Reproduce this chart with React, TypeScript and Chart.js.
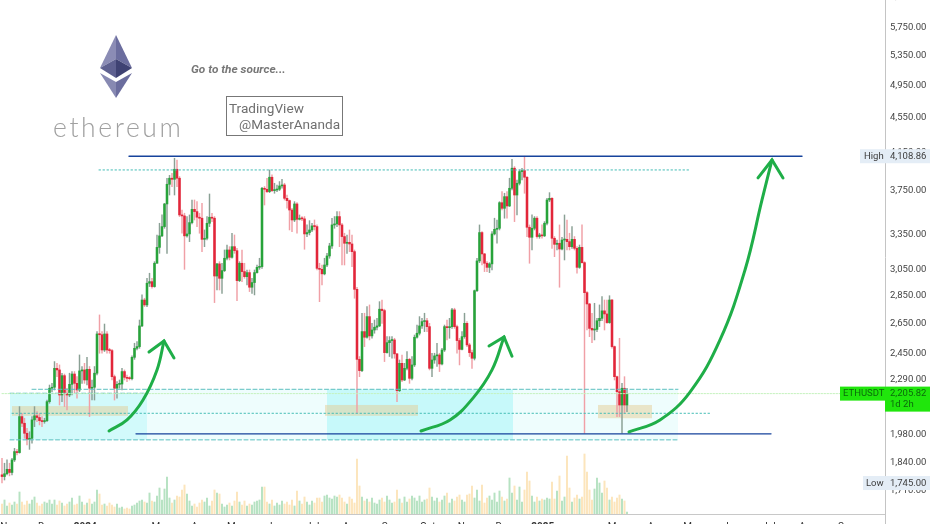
import React, { useEffect, useRef } from "react";
import { Chart, registerables } from "chart.js";

Chart.register(...registerables);

const opens = [1783,1775,1788,1809,1794,1854,1895,1890,2077,2041,
1988,1957,1962,2059,2081,2072,2055,2050,2055,2160,
2237,2243,2357,2347,2198,2312,2208,2198,2260,2322,
2266,2227,2341,2347,2286,2351,2237,2243,2327,2579,
2574,2473,2579,2473,2469,2306,2237,2260,2262,2337,
2302,2296,2294,2426,2484,2495,2634,2819,2783,2946,
2958,2920,3104,3236,3335,3417,3626,3818,3879,3868,
3971,3879,3523,3514,3335,3352,3453,3575,3554,3502,
3493,3305,3314,3447,3502,3493,3002,3099,2984,3045,
3145,3214,3153,3242,3208,2966,3104,3037,2997,3029,
2915,2951,3029,3071,3077,3778,3768,3745,3889,3755,
3761,3768,3801,3811,3680,3658,3569,3477,3626,3483,
3493,3487,3352,3364,3387,3423,3417,3063,3055,3019,
3090,3164,3248,3432,3441,3508,3432,3329,3271,3279,
3265,3200,2899,2413,2343,2595,2557,2699,2566,2606,
2625,2634,2752,2742,2456,2521,2535,2539,2448,2223,
2388,2286,2357,2413,2296,2378,2557,2584,2634,2664,
2670,2629,2357,2409,2435,2441,2384,2473,2629,2622,
2629,2747,2629,2535,2477,2561,2652,2506,2456,2420,
2889,3123,3364,3181,3104,3071,3099,3352,3393,3402,
3638,3585,3696,3607,3778,3982,3712,3828,3947,3957,
3889,3411,3323,3402,3493,3329,3343,3335,3447,3664,
3680,3314,3262,3271,3222,3299,3305,3285,3242,3305,
3228,3071,3236,3109,2874,2790,2617,2606,2610,2670,
2687,2740,2718,2657,2819,2495,2306,2217,2141,2237,
2141];

const closes = [1775,1788,1809,1794,1854,1895,1890,2077,2041,1988,
1957,1962,2059,2081,2072,2055,2050,2055,2160,2237,
2243,2357,2347,2198,2312,2208,2198,2260,2322,2266,
2227,2341,2347,2286,2351,2237,2243,2327,2579,2574,
2473,2579,2473,2469,2306,2237,2260,2262,2337,2302,
2296,2294,2426,2484,2495,2634,2819,2783,2946,2958,
2920,3104,3236,3335,3417,3626,3818,3879,3868,3971,
3879,3523,3514,3335,3352,3453,3575,3554,3502,3493,
3305,3314,3447,3502,3493,3002,3099,2984,3045,3145,
3214,3153,3242,3208,2966,3104,3037,2997,3029,2915,
2951,3029,3071,3077,3778,3768,3745,3889,3755,3761,
3768,3801,3811,3680,3658,3569,3477,3626,3483,3493,
3487,3352,3364,3387,3423,3417,3063,3055,3019,3090,
3164,3248,3432,3441,3508,3432,3329,3271,3279,3265,
3200,2899,2413,2343,2595,2557,2699,2566,2606,2625,
2634,2752,2742,2456,2521,2535,2539,2448,2223,2388,
2286,2357,2413,2296,2378,2557,2584,2634,2664,2670,
2629,2357,2409,2435,2441,2384,2473,2629,2622,2629,
2747,2629,2535,2477,2561,2652,2506,2456,2420,2889,
3123,3364,3181,3104,3071,3099,3352,3393,3402,3638,
3585,3696,3607,3778,3982,3712,3828,3947,3957,3889,
3411,3323,3402,3493,3329,3343,3335,3447,3664,3680,
3314,3262,3271,3222,3299,3305,3285,3242,3305,3228,
3071,3236,3109,2874,2790,2617,2606,2610,2670,2687,
2740,2718,2657,2819,2495,2306,2217,2141,2237,2141,
2205.82];

const highs = [1862,1838,1854,1838,1862,1911,1906,2132,2095,2068,
2014,1996,2077,2132,2104,2095,2077,2068,2169,2256,
2266,2399,2388,2378,2327,2322,2237,2327,2337,2337,
2306,2441,2368,2388,2426,2368,2286,2368,2595,2711,
2595,2647,2595,2484,2477,2316,2276,2286,2357,2347,
2316,2306,2435,2517,2528,2675,2857,2832,2984,3024,
2984,3117,3343,3447,3523,3632,3879,3908,3930,4087,
4069,3896,3569,3539,3508,3523,3664,3664,3648,3539,
3632,3387,3508,3722,3539,3508,3104,3117,3104,3214,
3256,3242,3358,3343,3228,3117,3214,3104,3050,3050,
2984,3050,3090,3145,3788,3795,3879,3964,3913,3828,
3811,3845,3868,3828,3712,3664,3585,3648,3638,3523,
3508,3508,3432,3471,3447,3477,3432,3104,3090,3145,
3186,3271,3493,3508,3554,3554,3447,3358,3343,3387,
3343,3214,2915,2431,2723,2723,2771,2783,2652,2675,
2687,2807,2819,2752,2561,2561,2561,2550,2452,2409,
2441,2388,2463,2420,2431,2572,2640,2699,2687,2723,
2687,2652,2452,2452,2517,2452,2484,2640,2675,2687,
2759,2759,2640,2550,2595,2723,2664,2517,2473,2894,
3145,3432,3372,3186,3117,3109,3372,3493,3477,3648,
3745,3729,3745,3879,4076,3999,3861,3964,3982,4108.86,
3896,3432,3523,3508,3508,3358,3432,3462,3680,3735,
3687,3329,3299,3432,3323,3523,3477,3358,3417,3329,
3242,3256,3432,3117,2882,2795,2723,2795,2687,2783,
2844,2819,2819,2851,2824,2499,2310,2550,2266,2306,
2237];

const lows = [1745,1759,1783,1778,1783,1846,1879,1887,2023,1962,
1928,1906,1937,2023,2050,2032,2023,2041,2050,2151,
2217,2227,2306,2141,2160,2132,2113,2188,2198,2208,
2179,2217,2266,2266,2256,2077,2169,2169,2316,2452,
2452,2463,2452,2452,2286,2169,2179,2237,2227,2286,
2276,2286,2286,2413,2473,2484,2629,2771,2771,2920,
2907,2915,3104,3186,3329,3402,3186,3712,3795,3712,
3795,3508,3358,3055,3323,3285,3441,3477,3417,3358,
3200,3242,3299,3417,3462,2800,2894,2894,2869,3037,
3131,3131,3145,3186,2814,2958,2958,2984,2933,2882,
2869,2857,3024,3055,3063,3616,3735,3735,3745,3729,
3745,3755,3778,3664,3585,3387,3372,3462,3358,3477,
3471,3220,3329,3343,3372,3387,3050,2807,2933,3011,
3077,3145,3228,3402,3417,3242,3090,3090,3186,3200,
3077,2832,2095,2306,2337,2495,2550,2539,2550,2584,
2606,2629,2652,2399,2452,2431,2420,2420,2160,2217,
2276,2282,2347,2266,2286,2368,2550,2572,2617,2595,
2595,2347,2306,2388,2368,2337,2378,2463,2539,2550,
2617,2617,2452,2378,2473,2550,2495,2431,2357,2409,
2882,3109,3090,3037,3037,3029,3050,3343,3271,3387,
3569,3493,3493,3601,3761,3462,3523,3811,3861,3729,
3329,3104,3214,3387,3314,3314,3314,3329,3432,3648,
3228,3158,3214,2915,3214,3131,3214,3214,3228,3214,
3024,3063,3104,1988,2606,2561,2521,2539,2595,2629,
2670,2606,2652,2652,2484,2286,2077,2077,1988,2095,
2104];

const volumes = [10,14,8,11,9,12,10,22,12,9,
13,10,14,17,11,8,10,12,11,14,
10,14,9,13,11,8,10,12,16,9,
10,18,12,9,11,15,10,12,24,20,
9,10,8,11,9,7,10,6,7,5,
6,5,8,9,11,13,14,12,11,21,
13,12,18,26,14,25,37,16,11,14,
18,17,24,29,20,13,8,10,7,11,
14,12,16,8,13,24,21,20,10,7,
9,11,8,13,22,12,9,13,8,10,
9,12,13,14,27,27,12,10,14,8,
11,9,13,10,12,9,14,8,23,13,
10,17,12,9,13,11,16,16,12,18,
19,16,15,18,17,19,16,12,10,17,
15,11,55,28,17,13,15,12,16,11,
10,14,16,12,18,14,11,12,24,15,
11,17,12,15,18,16,13,18,12,14,
15,26,17,13,16,12,14,18,21,11,
15,13,17,19,14,12,19,20,28,16,
24,13,29,11,16,18,14,21,12,23,
17,13,15,36,21,28,14,27,12,24,
42,33,18,12,17,13,15,14,16,15,
32,15,23,38,13,17,58,26,12,16,
19,15,17,60,42,24,14,25,36,31,
21,33,26,14,17,12,16,19,15,13,2];

const priceTicks = [6250,5750,5350,4950,4550,4150,3750,3350,3050,2850,2650,2450,2290,1980,1840,1710];
const monthTickPositions = [2.8,17.8,33.3,63.3,78.8,93.8,109.3,124.3,139.8,155.3,170.3,185.8,200.8,216.3,245.8,261.3,276.3,291.8,306.8,322.3,337.8];
const monthLabels = ["Nov","Dec","2024","Mar","Apr","May","Jun","Jul","Aug","Sep","Oct","Nov","Dec","2025","Mar","Apr","May","Jun","Jul","Aug","Sep"];

const highValue = 4108.86;
const lowValue = 1745;
const lastValue = 2205.82;

const resistanceLine = [[50.8, 4108.86], [320, 4108.86]];
const supportLine = [[53.6, 1985], [307.6, 1985]];
const upperDotted = [[38.8, 3964], [275.6, 3964]];
const lowerDotted = [[4, 2095], [283.6, 2095]];
const upperDashed = [[12, 2231], [270.4, 2231]];
const shortDashed = [[3.2, 2208], [58, 2208]];
const lowerDashed = [[3.2, 1954], [270.4, 1954]];
const lastPriceLine = [[0, 2205.82], [353, 2205.82]];

const arrowOne = [[42.8, 2000], [50, 2059], [56.4, 2169], [62, 2347], [64.8, 2532]];
const arrowOneHead = [[58.8, 2460], [64.8, 2532], [68.8, 2422]];
const arrowTwo = [[167.6, 2000], [179.2, 2059], [188.4, 2180], [196, 2347], [200.8, 2559]];
const arrowTwoHead = [[194.8, 2499], [200.8, 2559], [204, 2433]];
const arrowThree = [[250.8, 1995], [263.2, 2059], [275.2, 2215], [287.2, 2539], [297.2, 3050], [304, 3664], [308, 4069]];
const arrowThreeHead = [[302.4, 3882], [308, 4069], [312.4, 3882]];

// [x0, x1, priceTop, priceBottom]
const lightZones = [[58, 270.4, 2231, 1954]];
const cyanZones = [[3.2, 58, 2208, 1954], [130, 204.4, 2231, 1954]];
const tanZones = [[4, 50.4, 2135, 2081], [129.2, 166.4, 2141, 2081], [238.4, 260, 2141, 2068]];

const FONT = "Roboto, 'Liberation Sans', sans-serif";
const pts = (a: number[][]) => a.map(([x, y]) => ({ x, y }));
const fmt = (v: number) => v.toLocaleString("en-US", { minimumFractionDigits: 2, maximumFractionDigits: 2 });

const idx = opens.map((_, i) => i);
const isUp = (i: number) => closes[i] >= opens[i];

const overlay = {
  id: "overlay",
  beforeDatasetsDraw(chart: any) {
    const { ctx, scales } = chart;
    const fillZone = (z: number[], color: string) => {
      const x0 = scales.x.getPixelForValue(z[0]);
      const x1 = scales.x.getPixelForValue(z[1]);
      const y0 = scales.y.getPixelForValue(z[2]);
      const y1 = scales.y.getPixelForValue(z[3]);
      ctx.fillStyle = color;
      ctx.fillRect(x0, y0, x1 - x0, y1 - y0);
    };
    ctx.save();
    lightZones.forEach((z) => fillZone(z, "rgba(200,250,248,0.30)"));
    cyanZones.forEach((z) => fillZone(z, "rgba(130,240,245,0.36)"));
    tanZones.forEach((z) => fillZone(z, "rgba(228,205,150,0.5)"));
    ctx.restore();
  },
  afterDraw(chart: any) {
    const { ctx, scales } = chart;
    const axisX = chart.chartArea.right;
    ctx.save();
    ctx.strokeStyle = "#c4c4c4";
    ctx.lineWidth = 1;
    ctx.beginPath();
    ctx.moveTo(axisX + 0.5, chart.chartArea.bottom);
    ctx.lineTo(axisX + 0.5, 524);
    ctx.stroke();
    ctx.textBaseline = "middle";
    ctx.textAlign = "left";

    const tag = (name: string, value: number, x0: number, nameX: number) => {
      const y = scales.y.getPixelForValue(value);
      ctx.fillStyle = "#e4edf6";
      ctx.fillRect(x0, y - 7, 930 - x0, 14);
      ctx.fillStyle = "#3d3d3d";
      ctx.font = `9.5px ${FONT}`;
      ctx.fillText(name, nameX, y + 0.5);
      ctx.fillText(fmt(value), 890, y + 0.5);
    };
    tag("High", highValue, 860, 864);
    tag("Low", lowValue, 863, 866);

    const yLast = scales.y.getPixelForValue(lastValue);
    ctx.fillStyle = "#20e60c";
    ctx.fillRect(840, yLast - 7, 45, 14);
    ctx.fillRect(885, yLast - 7, 45, 25);
    ctx.fillStyle = "#0b6b0b";
    ctx.font = `9.5px ${FONT}`;
    ctx.fillText("ETHUSDT", 843, yLast + 0.5);
    ctx.fillText(fmt(lastValue), 890, yLast + 0.5);
    ctx.fillText("1d 2h", 890, yLast + 11.5);
    ctx.restore();
  },
};

export default function App() {
  const ref = useRef<HTMLCanvasElement>(null);
  useEffect(() => {
    if (!ref.current) return;
    const line = (data: number[][], color: string, width: number, dash: number[], order: number, tension = 0) => ({
      type: "line" as const,
      data: pts(data),
      borderColor: color,
      borderWidth: width,
      borderDash: dash,
      pointRadius: 0,
      tension,
      order,
      yAxisID: "y",
      borderCapStyle: "round" as const,
    });
    const chart = new Chart(ref.current, {
      type: "bar",
      data: {
        datasets: [
          {
            data: idx.map((i) => ({ x: i, y: volumes[i] })),
            backgroundColor: idx.map((i) => (isUp(i) ? "rgba(130,205,150,0.58)" : "rgba(250,210,140,0.58)")),
            barThickness: 1.3,
            grouped: false,
            order: 8,
            yAxisID: "yVol",
          },
          {
            data: idx.map((i) => ({ x: i, y: [lows[i], highs[i]] })),
            backgroundColor: idx.map((i) => (isUp(i) ? "#8aa094" : "#f0a0a6")),
            barThickness: 0.8,
            grouped: false,
            order: 7,
            yAxisID: "y",
          },
          {
            data: idx.map((i) => ({ x: i, y: [opens[i], closes[i]] })),
            backgroundColor: idx.map((i) => (isUp(i) ? "#27a33a" : "#e2263a")),
            barThickness: 1.9,
            minBarLength: 1,
            grouped: false,
            order: 6,
            yAxisID: "y",
          },
          line(lastPriceLine, "#c4f2bd", 1, [1.5, 1.5], 5),
          line(upperDotted, "#45bdb6", 1, [1.5, 2.5], 5),
          line(lowerDotted, "#45bdb6", 1, [1.5, 2.5], 5),
          line(upperDashed, "#5cc0c0", 1, [4, 2.5], 5),
          line(shortDashed, "#5cc0c0", 1, [4, 2.5], 5),
          line(lowerDashed, "#5cc0c0", 1, [4, 2.5], 5),
          line(resistanceLine, "#16439c", 1.4, [], 4),
          line(supportLine, "#16439c", 1.4, [], 4),
          line(arrowOne, "#1fae48", 3, [], 3, 0.4),
          line(arrowOneHead, "#1fae48", 3, [], 3),
          line(arrowTwo, "#1fae48", 3, [], 3, 0.4),
          line(arrowTwoHead, "#1fae48", 3, [], 3),
          line(arrowThree, "#1fae48", 3, [], 3, 0.4),
          line(arrowThreeHead, "#1fae48", 3, [], 3),
        ] as any,
      },
      options: {
        animation: false,
        responsive: false,
        layout: { padding: 0 },
        plugins: { legend: { display: false }, tooltip: { enabled: false } },
        scales: {
          x: {
            type: "linear",
            offset: false,
            min: -0.8,
            max: 353.2,
            grid: { display: false, drawTicks: false, offset: false },
            border: { color: "#c8c8c8" },
            afterBuildTicks: (s: any) => {
              s.ticks = monthTickPositions.map((value) => ({ value }));
            },
            afterFit: (s: any) => {
              s.height = 10;
              s.paddingLeft = 0;
              s.paddingRight = 0;
            },
            ticks: {
              autoSkip: false,
              maxRotation: 0,
              padding: 7,
              color: "#333",
              font: (c: any) => ({
                family: FONT,
                size: 10,
                weight: /^20/.test(monthLabels[c.index] || "") ? "bold" : "normal",
              }),
              callback: (_v: any, i: number) => monthLabels[i],
            },
          },
          y: {
            type: "logarithmic",
            position: "right",
            min: 1609,
            max: 6188,
            grid: { display: false, drawTicks: false },
            border: { color: "#c4c4c4" },
            afterBuildTicks: (s: any) => {
              s.ticks = priceTicks.map((value) => ({ value }));
            },
            afterFit: (s: any) => {
              s.width = 47;
              s.paddingTop = 0;
              s.paddingBottom = 0;
            },
            ticks: {
              autoSkip: false,
              padding: 5,
              crossAlign: "near",
              color: "#444",
              font: { family: FONT, size: 9.5 },
              callback: (v: any) => fmt(Number(v)),
            },
          },
          yVol: { type: "linear", min: 0, max: 514, display: false },
        },
      } as any,
      plugins: [overlay],
    });
    return () => chart.destroy();
  }, []);

  const text = (style: React.CSSProperties, content: string) => (
    <div style={{ position: "absolute", whiteSpace: "pre", fontFamily: FONT, ...style }}>{content}</div>
  );

  return (
    <div style={{ position: "fixed", left: 0, top: 0, width: 932, height: 524, overflow: "hidden", background: "#fff" }}>
      <canvas ref={ref} width={932} height={524} style={{ position: "absolute", left: 0, top: 0, display: "block" }} />
      {text({ left: 5, top: -10, fontFamily: "'Liberation Mono', monospace", fontSize: 9, color: "#333", fontWeight: 700 }, "ETHUSDT ETHUSDT.P  2D  Bian")}
      <svg width={40} height={70} viewBox="96 32 40 70" style={{ position: "absolute", left: 96, top: 32 }}>
        <polygon points="116,35 100,68 116,59" fill="#8b8cb5" />
        <polygon points="116,35 132,68 116,59" fill="#6b6d9e" />
        <polygon points="100,68 116,59 116,78" fill="#5e6090" />
        <polygon points="132,68 116,59 116,78" fill="#3f4273" />
        <polygon points="100,73 116,82 116,98" fill="#8789b2" />
        <polygon points="132,73 116,82 116,98" fill="#6b6d9e" />
      </svg>
      {text({ left: 53, top: 109, fontFamily: "Lato, sans-serif", fontWeight: 300, fontSize: 26.5, letterSpacing: 2.6, color: "#a0a0a0", lineHeight: "36px" }, "ethereum")}
      {text({ left: 191, top: 62, fontSize: 11.8, fontWeight: 700, fontStyle: "italic", color: "#777", lineHeight: "14px" }, "Go to the source...")}
      <div style={{ position: "absolute", left: 226, top: 96, width: 115, height: 38, border: "1px solid #777" }} />
      {text({ left: 229, top: 100, fontSize: 13.6, color: "#6f6f6f", lineHeight: "17px" }, "TradingView")}
      {text({ left: 239, top: 116, fontSize: 13.6, color: "#6f6f6f", lineHeight: "17px" }, "@MasterAnanda")}
    </div>
  );
}
